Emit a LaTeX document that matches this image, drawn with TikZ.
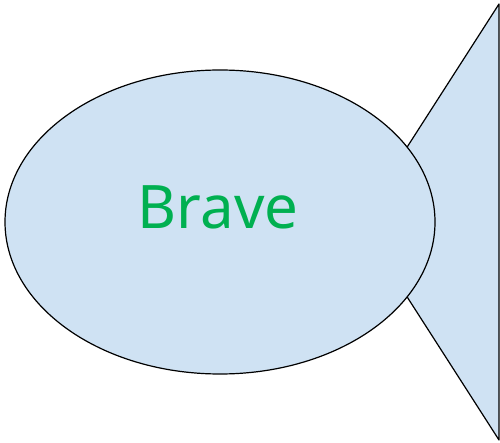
\documentclass[tikz,border=0pt]{standalone}
\usepackage{fontspec}
\setmainfont{Noto Sans}
\usetikzlibrary{shapes.geometric}
\definecolor{fishblue}{RGB}{207,226,243}
\definecolor{fishgreen}{RGB}{0,176,80}
\tikzset{
  fishpart/.style={fill=fishblue,draw=black,line width=1.2pt,line join=round},
  fishbody/.style={ellipse,fishpart,minimum width=430pt,minimum height=304pt,
    inner sep=0pt},
  fishname/.style={text=fishgreen,font=\fontsize{60}{60}\selectfont,inner sep=0pt}
}
\begin{document}
\begin{tikzpicture}[x=1pt,y=-1pt]
  \useasboundingbox (0,0) rectangle (500,443);
  % tail first, the body covers its tip
  \coordinate (tip) at (359,222);
  \coordinate (tailtop) at (499,4);
  \coordinate (tailbot) at (499,440);
  \filldraw[fishpart] (tip) -- (tailtop) -- (tailbot) -- cycle;
  \node[fishbody] (body) at (220,222) {};
  \node[fishname] (name) at (218,207) {Brave};
\end{tikzpicture}
\end{document}
